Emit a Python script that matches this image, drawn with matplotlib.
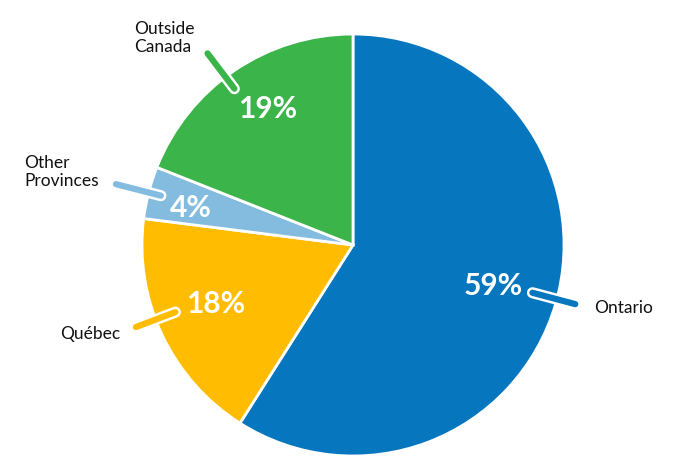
import numpy as np
import matplotlib
matplotlib.use("Agg")
import matplotlib.pyplot as plt

categories = ["Ontario", "Québec", "Other\nProvinces", "Outside\nCanada"]
values = [59, 18, 4, 19]
pct_labels = ["59%", "18%", "4%", "19%"]
colors = ["#0677BE", "#FFBC00", "#84BCE0", "#3BB44A"]

W, H = 677, 475
fig = plt.figure(figsize=(W / 100, H / 100), dpi=100)
ax = fig.add_axes([0, 0, 1, 1])

cx, cy, R = 353, H - 245, 211
wedges, _ = ax.pie(values, colors=colors, startangle=90, counterclock=False,
                   center=(cx, cy), radius=R, frame=True,
                   wedgeprops=dict(edgecolor="white", linewidth=2))
ax.set_xlim(0, W)
ax.set_ylim(0, H)
ax.set_aspect("equal")
ax.axis("off")

# per-label placement tweaks (radius fractions and angle offsets)
pct_r = [0.69, 0.71, 0.79, 0.76]
pct_da = [0.0, -2.0, 1.5, -2.0]
lead_in = [0.88, 0.90, 0.94, 0.93]
lead_out = [1.09, 1.10, 1.16, 1.14]
lead_da = [1.3, -4.5, 0.0, 3.0]
txt_off = [(19, -4, "left", "center"), (-76, -7, "left", "center"),
           (-92, 12, "left", "center"), (-73, 15, "left", "center")]

for w, pl, cat, col, pr, pda, li, lo, lda, (dx, dy, ha, va) in zip(
        wedges, pct_labels, categories, colors, pct_r, pct_da,
        lead_in, lead_out, lead_da, txt_off):
    mid = (w.theta1 + w.theta2) / 2
    a = np.deg2rad(mid + pda)
    ax.text(cx + pr * R * np.cos(a), cy + pr * R * np.sin(a), pl,
            ha="center", va="center", color="white", fontsize=21.5,
            fontweight="bold", family="Lato")
    b = np.deg2rad(mid + lda)
    x0, y0 = cx + li * R * np.cos(b), cy + li * R * np.sin(b)
    x1, y1 = cx + lo * R * np.cos(b), cy + lo * R * np.sin(b)
    ax.plot([x0, x1], [y0, y1], color="white", lw=8, solid_capstyle="round", zorder=5)
    ax.plot([x0, x1], [y0, y1], color=col, lw=4.5, solid_capstyle="round", zorder=6)
    ax.text(x1 + dx, y1 + dy, cat, ha=ha, va=va, fontsize=12.5, color="#111111",
            family="Lato", linespacing=1.15)

fig.savefig("out.png", dpi=100)
